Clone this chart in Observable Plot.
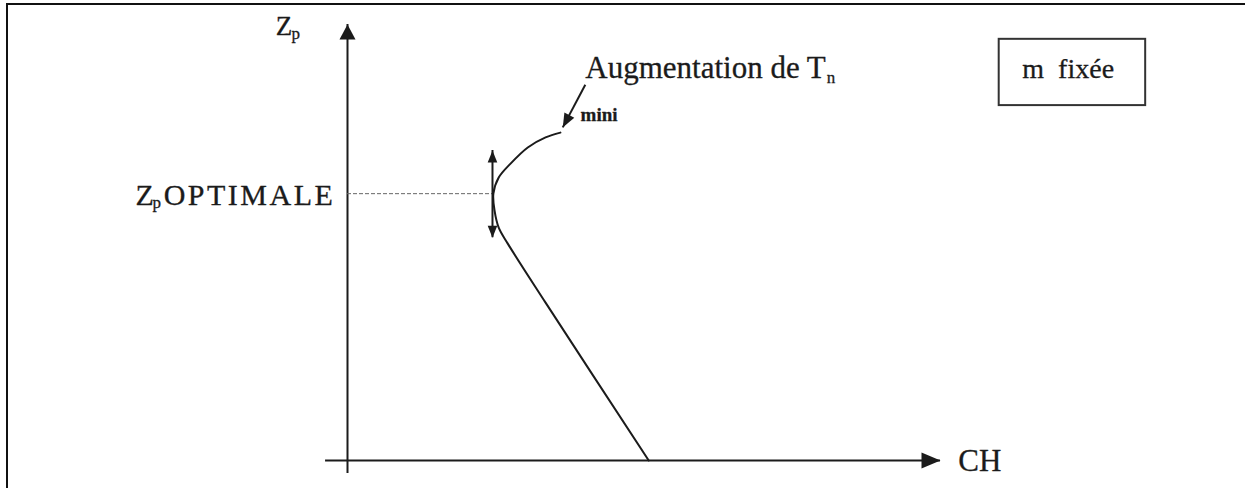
<!DOCTYPE html>
<html><head><meta charset="utf-8">
<script src="https://cdn.jsdelivr.net/npm/d3@7"></script>
<script src="https://cdn.jsdelivr.net/npm/@observablehq/plot@0.6"></script>
<style>
html,body{margin:0;padding:0;background:#fff;}
#wrap{position:relative;width:1245px;height:488px;overflow:hidden;background:#fff;}
#chart{position:absolute;left:0;top:0;}
#border{position:absolute;left:6px;top:3px;right:0;bottom:0;border-left:2px solid #111;border-top:2px solid #111;pointer-events:none;}
</style></head>
<body><div id="wrap"><div id="chart"></div><div id="border"></div></div>
<script>
// ---- data (arbitrary units; no ticks in original) ----
const curveCH = [3.59, 3.34, 3.04, 2.75, 2.55, 2.46, 2.48, 2.55, 2.70, 3.34, 5.08];
const curveZp = [7.52, 7.41, 7.18, 6.81, 6.49, 6.12, 5.73, 5.34, 4.98, 3.62, 0.00];

const zpOptimal = 6.12;          // Zp OPTIMALE level
const chAtOptimal = 2.46;        // curve position at the optimum
const bandCH = 2.445;            // double arrow position
const bandZp = [5.11, 7.11];     // double arrow extent

const xAxisExtent = [-0.37, 10]; // CH axis
const yAxisExtent = [-0.30, 10]; // Zp axis

const noteArrowFrom = [4.01, 8.62];
const noteArrowTo = [3.63, 7.64];

const boxCH = [10.99, 13.46];
const boxZp = [8.14, 9.66];

const labelText = ["Z", "p", "Z", "p", "OPTIMALE", "Augmentation de T", "n", "mini", "CH", "m\u00a0 fixée"];
const labelCH   = [-1.21, -0.944, -3.575, -3.288, -3.10, 4.01, 8.08, 3.93, 10.30, 11.38];
const labelZp   = [9.77, 9.66, 5.85, 5.78, 5.85, 8.78, 8.65, 7.78, -0.25, 8.78];
const labelRole = ["axis", "sub", "opt", "sub", "opt", "note", "sub", "mini", "axis2", "box"];

// ---- build ----
const curve = curveCH.map((ch, i) => ({ch, zp: curveZp[i]}));
const labels = labelText.map((t, i) => ({text: t, ch: labelCH[i], zp: labelZp[i], role: labelRole[i]}));
const fontSizes = {axis: 27, sub: 17, opt: 30, note: 31, mini: 19, axis2: 31, box: 28};
const ink = "#1b1b1b";
const serif = "Liberation Serif, Times New Roman, serif";

function arrowHead(aspect) {
  return {
    draw(context, size) {
      const r = Math.sqrt(size / Math.PI);
      const h = 2 * r, w = h * aspect;
      context.moveTo(0, 0);
      context.lineTo(w / 2, h);
      context.lineTo(-w / 2, h);
      context.closePath();
    }
  };
}

const textMark = (role, extra = {}) => Plot.text(labels.filter(d => d.role === role), {
  x: "ch", y: "zp", text: "text", textAnchor: "start", lineAnchor: "bottom",
  fontSize: fontSizes[role], fontFamily: serif, fill: ink, stroke: ink, strokeWidth: 0.3, ...extra
});

const plot = Plot.plot({
  width: 1245, height: 488,
  marginLeft: 0, marginRight: 0, marginTop: 0, marginBottom: 0,
  x: {domain: [0, 10], range: [347, 940], axis: null},
  y: {domain: [0, 10], range: [460, 24], axis: null},
  style: {background: "transparent", fontFamily: serif},
  marks: [
    // axes
    Plot.ruleY([0], {x1: xAxisExtent[0], x2: xAxisExtent[1], stroke: ink, strokeWidth: 2}),
    Plot.ruleX([0], {y1: yAxisExtent[0], y2: yAxisExtent[1], stroke: ink, strokeWidth: 2}),
    Plot.dot([{ch: xAxisExtent[1], zp: 0}], {x: "ch", y: "zp", r: 9.5, symbol: arrowHead(0.84), rotate: 90, fill: ink, stroke: "none"}),
    Plot.dot([{ch: 0, zp: yAxisExtent[1]}], {x: "ch", y: "zp", r: 7.5, symbol: arrowHead(1.07), fill: ink, stroke: "none"}),
    // dotted optimal line
    Plot.ruleY([zpOptimal], {x1: 0, x2: chAtOptimal, stroke: "#666", strokeWidth: 1, strokeDasharray: "4,2"}),
    // curve
    Plot.line(curve, {x: "ch", y: "zp", curve: "catmull-rom", stroke: ink, strokeWidth: 2}),
    // double arrow
    Plot.ruleX([bandCH], {y1: bandZp[0], y2: bandZp[1], stroke: ink, strokeWidth: 2}),
    Plot.dot([{ch: bandCH, zp: bandZp[1]}], {x: "ch", y: "zp", r: 6, symbol: arrowHead(0.8), fill: ink, stroke: "none"}),
    Plot.dot([{ch: bandCH, zp: bandZp[0]}], {x: "ch", y: "zp", r: 6, symbol: arrowHead(0.8), rotate: 180, fill: ink, stroke: "none"}),
    // annotation arrow
    Plot.link([{x1: noteArrowFrom[0], y1: noteArrowFrom[1], x2: noteArrowTo[0], y2: noteArrowTo[1]}], {x1: "x1", y1: "y1", x2: "x2", y2: "y2", stroke: ink, strokeWidth: 2}),
    Plot.dot([{ch: noteArrowTo[0], zp: noteArrowTo[1]}], {x: "ch", y: "zp", r: 7, symbol: arrowHead(0.8), rotate: 208, fill: ink, stroke: "none"}),
    // box
    Plot.rect([{x1: boxCH[0], x2: boxCH[1], y1: boxZp[0], y2: boxZp[1]}], {x1: "x1", x2: "x2", y1: "y1", y2: "y2", fill: "none", stroke: "#333", strokeWidth: 2}),
    // labels
    textMark("axis"),
    textMark("sub"),
    textMark("opt"),
    textMark("note"),
    textMark("mini", {fontWeight: "bold"}),
    textMark("axis2"),
    textMark("box")
  ]
});

d3.select(plot).selectAll("text").filter(function() { return this.textContent === "OPTIMALE"; }).attr("letter-spacing", "2.5");
document.getElementById("chart").appendChild(plot);
</script></body></html>
